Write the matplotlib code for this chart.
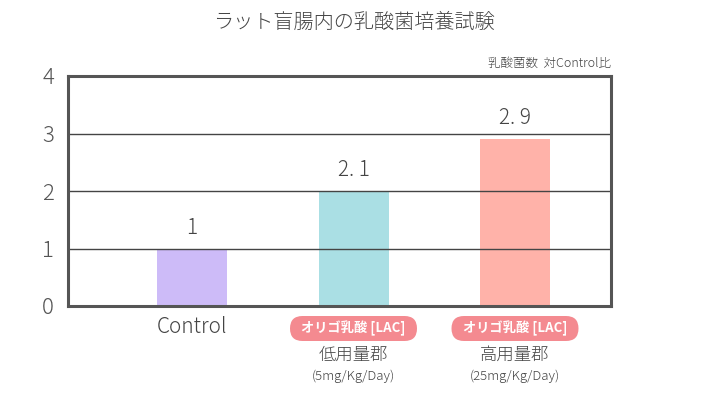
import matplotlib
matplotlib.use("Agg")
import matplotlib.pyplot as plt
from matplotlib.patches import FancyBboxPatch

plt.rcParams["font.family"] = ["Noto Sans CJK JP", "DejaVu Sans"]
plt.rcParams["font.weight"] = "light"

# data
groups = ["Control", "低用量郡", "高用量郡"]
bar_heights = [1.0, 2.0, 2.9]
value_labels = ["1", "2. 1", "2. 9"]
badge_text = "オリゴ乳酸 [LAC]"
doses = ["", "(5mg/Kg/Day)", "(25mg/Kg/Day)"]
bar_colors = ["#CDBBF8", "#AADFE4", "#FFB2A9"]
yticks = [0, 1, 2, 3, 4]

GRAY = "#444444"

fig = plt.figure(figsize=(7.09, 3.97), dpi=100)
W, H = 709, 397
ax = fig.add_axes([68 / W, 1 - 306 / H, (611 - 68) / W, (306 - 76) / H])

x = list(range(len(groups)))
ax.bar(x, bar_heights, width=0.433, color=bar_colors, zorder=1)
ax.set_xlim(-0.768, 2.594)
ax.set_ylim(0, 4)

for yy in yticks[1:-1]:
    ax.axhline(yy, color=GRAY, lw=1.0, zorder=2)
for s in ax.spines.values():
    s.set_color("#555555")
    s.set_linewidth(2.2)
    s.set_zorder(3)

ax.set_yticks(yticks)
ax.set_yticklabels([str(v) for v in yticks], fontsize=16, color="#555555")
ax.tick_params(axis="y", length=0, pad=10)
ax.set_xticks([])

for xi, h, lab in zip(x, bar_heights, value_labels):
    ax.text(xi, h + 0.17, lab, ha="center", va="bottom", fontsize=15, color=GRAY)

# overlay in pixel coordinates for labels below the axis
ov = fig.add_axes([0, 0, 1, 1], zorder=5)
ov.set_xlim(0, W)
ov.set_ylim(H, 0)
ov.axis("off")

ov.text(192, 327, groups[0], ha="center", va="center", fontsize=15, color=GRAY)
for xi in x[1:]:
    cx = 192 + 161.5 * xi
    bw, bh = 127, 25
    badge = FancyBboxPatch((cx - bw / 2, 316), bw, bh,
                           boxstyle="round,pad=0,rounding_size=12.5",
                           fc="#F48A90", ec="none")
    ov.add_patch(badge)
    ov.text(cx, 328.5, badge_text, ha="center", va="center",
            fontsize=9.5, color="white", fontweight="bold")
    ov.text(cx, 355, groups[xi], ha="center", va="center", fontsize=12.5, color=GRAY)
    ov.text(cx, 376, doses[xi], ha="center", va="center", fontsize=9.5, color=GRAY)

ov.text(354, 22, "ラット盲腸内の乳酸菌培養試験", ha="center", va="center",
        fontsize=14.5, color=GRAY)
ov.text(611, 63, "乳酸菌数  対Control比", ha="right", va="center",
        fontsize=9, color=GRAY)

fig.savefig("out.png", dpi=100)
